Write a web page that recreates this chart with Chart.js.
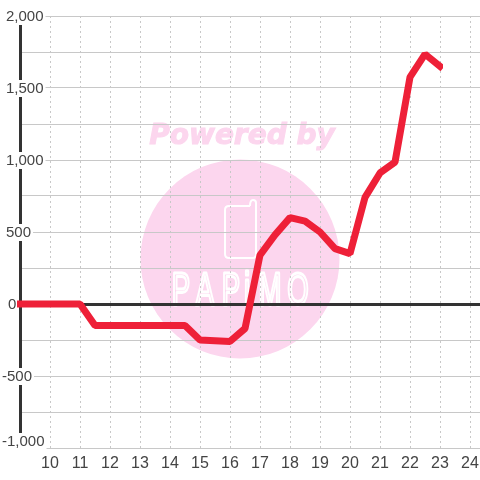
<!DOCTYPE html>
<html>
<head>
<meta charset="utf-8">
<script src="https://cdn.jsdelivr.net/npm/chart.js@4/dist/chart.umd.min.js"></script>
<style>
  html, body { margin: 0; padding: 0; background: #fff; }
  canvas { display: block; }
</style>
</head>
<body>
<canvas id="myChart" width="480" height="480"></canvas>
<script>
// values, half hour steps
const hours = [9, 10, 11, 11.5, 12, 13, 14, 14.5, 15, 15.5, 16, 16.5, 17, 17.5, 18, 18.5, 19, 19.5, 20, 20.5, 21, 21.5, 22, 22.5, 23];
const balance = [0, 0, 0, -150, -150, -150, -150, -150, -250, -255, -260, -170, 340, 480, 600, 575, 500, 385, 350, 740, 910, 985, 1575, 1735, 1650];
const yTickValues = [2000, 1500, 1000, 500, 0, -500, -1000];
const logoLetters = ['P', 'A', 'P', 'i', 'M', 'O'];

const tickColor = '#444';
const tickFont = { family: '"Liberation Sans", Arial, sans-serif', size: 15 };

// pale logo behind the grid
const watermark = {
    id: 'watermark',
    beforeDraw(chart) {
        const ctx = chart.ctx;
        ctx.save();
        ctx.fillStyle = '#fcd6ee';
        ctx.strokeStyle = '#fcd6ee';
        ctx.beginPath();
        ctx.arc(240, 259, 99.5, 0, Math.PI * 2);
        ctx.fill();

        ctx.font = 'italic bold 28px "DejaVu Sans"';
        ctx.textAlign = 'center';
        ctx.textBaseline = 'alphabetic';
        ctx.lineWidth = 1;
        ctx.fillText('Powered by', 242, 144);
        ctx.strokeText('Powered by', 242, 144);

        // phone icon
        ctx.strokeStyle = '#fff';
        ctx.lineWidth = 2;
        ctx.lineJoin = 'round';
        ctx.beginPath();
        ctx.moveTo(250, 206);
        ctx.lineTo(229, 206);
        ctx.quadraticCurveTo(225, 206, 225, 210);
        ctx.lineTo(225, 254);
        ctx.quadraticCurveTo(225, 258, 229, 258);
        ctx.lineTo(253, 258);
        ctx.quadraticCurveTo(256, 258, 256, 254);
        ctx.lineTo(256, 203);
        ctx.quadraticCurveTo(256, 200, 253, 200);
        ctx.quadraticCurveTo(250, 200, 250, 206);
        ctx.stroke();

        // tall thin letters
        const centers = [181, 205, 231, 247, 270, 298];
        ctx.font = '46px "Liberation Sans"';
        ctx.lineWidth = 3;
        logoLetters.forEach((letter, i) => {
            ctx.save();
            ctx.translate(centers[i], 305);
            ctx.scale(0.6, 1);
            ctx.strokeText(letter, 0, 0);
            ctx.restore();
        });
        ctx.restore();
    }
};

// the labels sit on the axis with a white box behind them
const yLabels = {
    id: 'yLabels',
    beforeDatasetsDraw(chart) {
        const ctx = chart.ctx;
        const scale = chart.scales.y;
        ctx.save();
        ctx.font = '15px ' + tickFont.family;
        ctx.textAlign = 'left';
        ctx.textBaseline = 'middle';
        yTickValues.forEach((v) => {
            const label = v.toLocaleString('en-US');
            const left = v < 0 ? 2 : (v === 0 ? 8 : 6);
            const y = scale.getPixelForValue(v) + (v === -1000 ? -7 : 0);
            const width = ctx.measureText(label).width;
            ctx.fillStyle = '#fff';
            ctx.fillRect(left - 2, y - 8, width + 4, 17);
            ctx.fillStyle = tickColor;
            ctx.fillText(label, left, y + 1);
        });
        ctx.restore();
    }
};

new Chart(document.getElementById('myChart').getContext('2d'), {
    type: 'line',
    data: {
        datasets: [{
            data: hours.map((h, i) => ({ x: h, y: balance[i] })),
            borderColor: '#ee2038',
            borderWidth: 7,
            borderCapStyle: 'square',
            borderJoinStyle: 'bevel',
            pointRadius: 0,
            tension: 0,
            clip: { left: 3, top: false, right: -37, bottom: false }
        }]
    },
    options: {
        responsive: false,
        animation: false,
        layout: { padding: { top: 16 } },
        plugins: { legend: { display: false }, tooltip: { enabled: false } },
        scales: {
            x: {
                type: 'linear',
                min: 9,
                max: 24.333,
                afterFit: (scale) => {
                    scale.height = 32;
                    scale.paddingLeft = 0;
                    scale.paddingRight = 0;
                },
                border: { color: '#c8c8c8', width: 1, dash: [2, 3] },
                grid: { color: '#c8c8c8', lineWidth: 1, drawTicks: false },
                ticks: {
                    stepSize: 1,
                    includeBounds: false,
                    autoSkip: false,
                    maxRotation: 0,
                    padding: 6,
                    color: tickColor,
                    font: { family: tickFont.family, size: 16 },
                    callback: (v) => (v === 9 ? '' : String(v))
                }
            },
            y: {
                min: -1000,
                max: 2000,
                afterFit: (scale) => { scale.width = 20; },
                border: { color: '#333', width: 3 },
                grid: {
                    drawTicks: false,
                    color: (c) => (c.tick && c.tick.value === 0 ? '#333' : '#c8c8c8'),
                    lineWidth: (c) => (c.tick && c.tick.value === 0 ? 3 : 1)
                },
                ticks: { stepSize: 250, autoSkip: false, display: false }
            }
        }
    },
    plugins: [watermark, yLabels]
});
</script>
</body>
</html>
